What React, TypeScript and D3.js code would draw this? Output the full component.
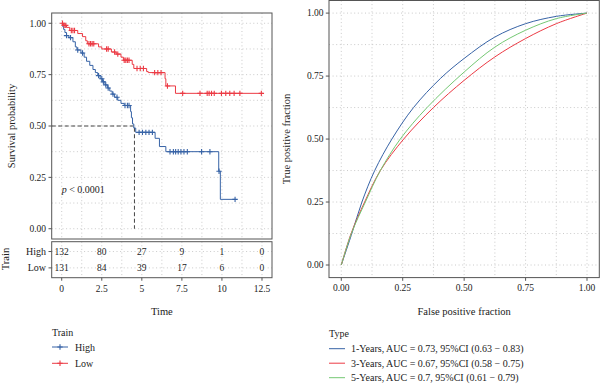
import * as d3 from "d3";

// Kaplan-Meier steps: time of drop, survival after the drop
const highStepTimes = [0.05, 0.12, 0.2, 0.3, 0.45, 0.7, 0.85, 0.95, 1.2, 1.4, 1.55, 1.75, 1.95, 2.1, 2.25, 2.4, 2.55, 2.7, 2.85, 3.0, 3.15, 3.3, 3.5, 3.7, 3.9, 4.3, 4.35, 4.42, 4.5, 4.62, 5.83, 6.1, 6.5, 9.8, 9.9];
const highStepSurv = [0.985, 0.97, 0.955, 0.94, 0.93, 0.91, 0.885, 0.87, 0.855, 0.835, 0.815, 0.795, 0.775, 0.76, 0.745, 0.73, 0.715, 0.7, 0.685, 0.67, 0.655, 0.64, 0.625, 0.61, 0.6, 0.57, 0.54, 0.51, 0.49, 0.469, 0.44, 0.4, 0.375, 0.28, 0.143];
const highEnd = 10.82;
const highCensor = [0.3, 0.55, 1.0, 1.3, 2.3, 2.5, 2.6, 2.75, 2.9, 3.2, 3.45, 3.95, 4.1, 4.2, 4.83, 5.04, 5.25, 5.45, 5.66, 6.76, 6.97, 7.11, 7.27, 7.44, 7.63, 7.84, 8.73, 9.25, 9.82, 10.82];

const lowStepTimes = [0.1, 0.3, 0.5, 1.0, 1.3, 1.5, 1.6, 2.3, 2.5, 3.1, 3.4, 3.7, 3.85, 4.4, 4.5, 5.3, 5.4, 6.45, 6.5, 7.1];
const lowStepSurv = [0.99, 0.98, 0.965, 0.95, 0.935, 0.915, 0.9, 0.885, 0.875, 0.86, 0.85, 0.835, 0.82, 0.8, 0.78, 0.765, 0.76, 0.73, 0.695, 0.659];
const lowEnd = 12.46;
const lowCensor = [0.05, 0.15, 0.25, 0.6, 0.7, 0.8, 1.7, 1.8, 1.9, 2.0, 2.8, 2.9, 3.3, 3.5, 3.9, 4.0, 4.1, 4.2, 4.7, 4.9, 5.1, 5.8, 6.0, 6.2, 6.6, 7.55, 8.63, 9.08, 9.2, 9.35, 9.52, 9.97, 10.24, 10.49, 10.76, 11.12, 12.46];

const medianTime = 4.54;
const riskTimes = [0, 2.5, 5, 7.5, 10, 12.5];
const riskHigh = [132, 80, 27, 9, 1, 0];
const riskLow = [131, 84, 39, 17, 6, 0];
const kmTickLabels = ["0", "2.5", "5", "7.5", "10", "12.5"];
const survTicks = [0, 0.25, 0.5, 0.75, 1];

// ROC curves
const roc1Fpr = [0, 0.043, 0.084, 0.136, 0.206, 0.294, 0.403, 0.5, 0.625, 0.75, 0.875, 1];
const roc1Tpr = [0, 0.125, 0.25, 0.375, 0.5, 0.625, 0.74, 0.82, 0.905, 0.958, 0.987, 1];
const roc3Fpr = [0, 0.04, 0.095, 0.159, 0.254, 0.375, 0.5, 0.625, 0.75, 0.875, 1];
const roc3Tpr = [0, 0.125, 0.25, 0.375, 0.5, 0.625, 0.733, 0.826, 0.899, 0.958, 1];
const roc5Fpr = [0, 0.041, 0.098, 0.159, 0.24, 0.349, 0.5, 0.625, 0.75, 0.875, 1];
const roc5Tpr = [0, 0.125, 0.25, 0.375, 0.5, 0.625, 0.766, 0.865, 0.932, 0.978, 1];
const rocLabels = [
  "1-Years, AUC = 0.73, 95%CI (0.63 \u2212 0.83)",
  "3-Years, AUC = 0.67, 95%CI (0.58 \u2212 0.75)",
  "5-Years, AUC = 0.7, 95%CI (0.61 \u2212 0.79)",
];
const rocTicks = [0, 0.25, 0.5, 0.75, 1];

const BLUE = "#3763a6";
const RED = "#ec3a44";
const GREEN = "#74c873";
const FONT = "'Liberation Serif', 'DejaVu Serif', serif";
const GRID = "#c4c4c4";
const FRAME = "#555";

function survAt(times: number[], surv: number[], t: number) {
  let s = 1;
  for (let i = 0; i < times.length; i++) if (times[i] <= t) s = surv[i];
  return s;
}

function stepPoints(times: number[], surv: number[], end: number): [number, number][] {
  const pts: [number, number][] = [[0, 1]];
  times.forEach((t, i) => pts.push([t, surv[i]]));
  pts.push([end, surv[surv.length - 1]]);
  return pts;
}

function Plus({ x, y, color }: { x: number; y: number; color: string }) {
  return (
    <path d={`M${x - 2.7},${y}H${x + 2.7}M${x},${y - 2.7}V${y + 2.7}`} stroke={color} strokeWidth={1.1} />
  );
}

export default function App() {
  // KM panel
  const kmX = d3.scaleLinear().domain([-0.625, 13.125]).range([51.7, 272]);
  const kmY = d3.scaleLinear().domain([-0.05, 1.05]).range([239, 13]);
  const kmMajor = d3.range(0, 13.1, 2.5);
  const kmMinor = d3.range(1.25, 13, 2.5);
  const survMinor = [0.125, 0.375, 0.625, 0.875];
  const stepLine = d3
    .line<[number, number]>()
    .x((d) => kmX(d[0]))
    .y((d) => kmY(d[1]))
    .curve(d3.curveStepAfter);

  const riskY = d3.scalePoint<string>().domain(["High", "Low"]).range([241.7, 277.7]).padding(0.6);

  // ROC panel
  const rocX = d3.scaleLinear().domain([-0.05, 1.05]).range([329, 599.3]);
  const rocY = d3.scaleLinear().domain([-0.05, 1.05]).range([277.6, 0.5]);
  const rocMinor = [0.125, 0.375, 0.625, 0.875];
  const rocLine = d3
    .line<[number, number]>()
    .x((d) => rocX(d[0]))
    .y((d) => rocY(d[1]))
    .curve(d3.curveCatmullRom.alpha(0.5));
  const rocSeries = [
    { fpr: roc1Fpr, tpr: roc1Tpr, color: BLUE, label: rocLabels[0] },
    { fpr: roc3Fpr, tpr: roc3Tpr, color: RED, label: rocLabels[1] },
    { fpr: roc5Fpr, tpr: roc5Tpr, color: GREEN, label: rocLabels[2] },
  ];

  const groups = [
    { name: "High", times: highStepTimes, surv: highStepSurv, end: highEnd, censor: highCensor, color: BLUE },
    { name: "Low", times: lowStepTimes, surv: lowStepSurv, end: lowEnd, censor: lowCensor, color: RED },
  ];

  const dot = { stroke: GRID, strokeWidth: 0.9, strokeDasharray: "1,2.6" };

  return (
    <svg
      width={600}
      height={384}
      style={{ position: "absolute", left: 0, top: 0, background: "#fff" }}
      fontFamily={FONT}
      fill="#222"
    >
      {/* ---------- KM panel ---------- */}
      <g>
        {[...kmMajor, ...kmMinor].map((t) => (
          <line key={"kv" + t} x1={kmX(t)} x2={kmX(t)} y1={13} y2={239} {...dot} />
        ))}
        {[...survTicks, ...survMinor].map((s) => (
          <line key={"kh" + s} x1={51.7} x2={272} y1={kmY(s)} y2={kmY(s)} {...dot} />
        ))}
        <path
          d={`M${kmX(-0.625)},${kmY(0.5)}H${kmX(medianTime)}V${kmY(0)}`}
          fill="none"
          stroke="#444"
          strokeWidth={1}
          strokeDasharray="4,2.5"
        />
        {groups.map((g) => (
          <g key={g.name}>
            <path d={stepLine(stepPoints(g.times, g.surv, g.end)) || ""} fill="none" stroke={g.color} strokeWidth={1} />
            {g.censor.map((t, i) => (
              <Plus key={i} x={kmX(t)} y={kmY(survAt(g.times, g.surv, t))} color={g.color} />
            ))}
          </g>
        ))}
        <rect x={51.7} y={13} width={272 - 51.7} height={226} fill="none" stroke={FRAME} strokeWidth={1} />
        {survTicks.map((s) => (
          <g key={"ky" + s}>
            <line x1={48.5} x2={51.7} y1={kmY(s)} y2={kmY(s)} stroke={FRAME} />
            <text x={46} y={kmY(s)} dy="0.35em" textAnchor="end" fontSize={9.5}>
              {s.toFixed(2)}
            </text>
          </g>
        ))}
        <text transform={`translate(15,${kmY(0.5)}) rotate(-90)`} textAnchor="middle" fontSize={10.5}>
          Survival probability
        </text>
        <text x={kmX(0)} y={193} fontSize={10}>
          <tspan fontStyle="italic">p</tspan> {"< 0.0001"}
        </text>
      </g>

      {/* ---------- Risk table ---------- */}
      <g>
        {[...kmMajor, ...kmMinor].map((t) => (
          <line key={"rv" + t} x1={kmX(t)} x2={kmX(t)} y1={241.7} y2={277.7} {...dot} />
        ))}
        {["High", "Low"].map((n) => (
          <line key={"rh" + n} x1={51.7} x2={272} y1={riskY(n)} y2={riskY(n)} {...dot} />
        ))}
        {riskTimes.map((t, i) => (
          <g key={"rn" + t}>
            <text x={kmX(t)} y={riskY("High")} dy="0.35em" textAnchor="middle" fontSize={9.5} style={{ paintOrder: "stroke" }} stroke="#fff" strokeWidth={2}>
              {riskHigh[i]}
            </text>
            <text x={kmX(t)} y={riskY("Low")} dy="0.35em" textAnchor="middle" fontSize={9.5} style={{ paintOrder: "stroke" }} stroke="#fff" strokeWidth={2}>
              {riskLow[i]}
            </text>
          </g>
        ))}
        <rect x={51.7} y={241.7} width={272 - 51.7} height={36} fill="none" stroke={FRAME} strokeWidth={1} />
        {["High", "Low"].map((n) => (
          <g key={"rl" + n}>
            <line x1={48.5} x2={51.7} y1={riskY(n)} y2={riskY(n)} stroke={FRAME} />
            <text x={46} y={riskY(n)} dy="0.35em" textAnchor="end" fontSize={10}>
              {n}
            </text>
          </g>
        ))}
        {riskTimes.map((t, i) => (
          <g key={"rx" + t}>
            <line x1={kmX(t)} x2={kmX(t)} y1={277.7} y2={280.7} stroke={FRAME} />
            <text x={kmX(t)} y={292} textAnchor="middle" fontSize={9.5}>
              {kmTickLabels[i]}
            </text>
          </g>
        ))}
        <text transform={`translate(9,259) rotate(-90)`} textAnchor="middle" fontSize={10.5}>
          Train
        </text>
        <text x={kmX(6.25)} y={315} textAnchor="middle" fontSize={10.5}>
          Time
        </text>
      </g>

      {/* ---------- KM legend ---------- */}
      <g>
        <text x={52} y={336} fontSize={10}>
          Train
        </text>
        {groups.map((g, i) => {
          const y = 347 + i * 16.3;
          return (
            <g key={"lg" + g.name}>
              <line x1={52} x2={68} y1={y} y2={y} stroke={g.color} />
              <Plus x={60} y={y} color={g.color} />
              <text x={75} y={y} dy="0.35em" fontSize={10}>
                {g.name}
              </text>
            </g>
          );
        })}
      </g>

      {/* ---------- ROC panel ---------- */}
      <g>
        {[...rocTicks, ...rocMinor].map((v) => (
          <line key={"gv" + v} x1={rocX(v)} x2={rocX(v)} y1={0.5} y2={277.6} {...dot} />
        ))}
        {[...rocTicks, ...rocMinor].map((v) => (
          <line key={"gh" + v} x1={329} x2={599.3} y1={rocY(v)} y2={rocY(v)} {...dot} />
        ))}
        {rocSeries.map((s) => (
          <path
            key={s.label}
            d={rocLine(s.fpr.map((f, i) => [f, s.tpr[i]] as [number, number])) || ""}
            fill="none"
            stroke={s.color}
            strokeWidth={1}
          />
        ))}
        <rect x={329} y={0.5} width={599.3 - 329} height={277.1} fill="none" stroke={FRAME} strokeWidth={1} />
        {rocTicks.map((v) => (
          <g key={"rt" + v}>
            <line x1={325.8} x2={329} y1={rocY(v)} y2={rocY(v)} stroke={FRAME} />
            <text x={323.5} y={rocY(v)} dy="0.35em" textAnchor="end" fontSize={9.5}>
              {v.toFixed(2)}
            </text>
            <line x1={rocX(v)} x2={rocX(v)} y1={277.6} y2={280.8} stroke={FRAME} />
            <text x={rocX(v)} y={290.5} textAnchor="middle" fontSize={9.5}>
              {v.toFixed(2)}
            </text>
          </g>
        ))}
        <text transform={`translate(290,${rocY(0.5)}) rotate(-90)`} textAnchor="middle" fontSize={10.5}>
          True positive fraction
        </text>
        <text x={rocX(0.5)} y={315} textAnchor="middle" fontSize={10.5}>
          False positive fraction
        </text>
      </g>

      {/* ---------- ROC legend ---------- */}
      <g>
        <text x={329} y={336.5} fontSize={10}>
          Type
        </text>
        {rocSeries.map((s, i) => {
          const y = 348.7 + i * 14.5;
          return (
            <g key={"rl" + i}>
              <line x1={329} x2={345} y1={y} y2={y} stroke={s.color} />
              <text x={351} y={y} dy="0.35em" fontSize={10}>
                {s.label}
              </text>
            </g>
          );
        })}
      </g>
    </svg>
  );
}
